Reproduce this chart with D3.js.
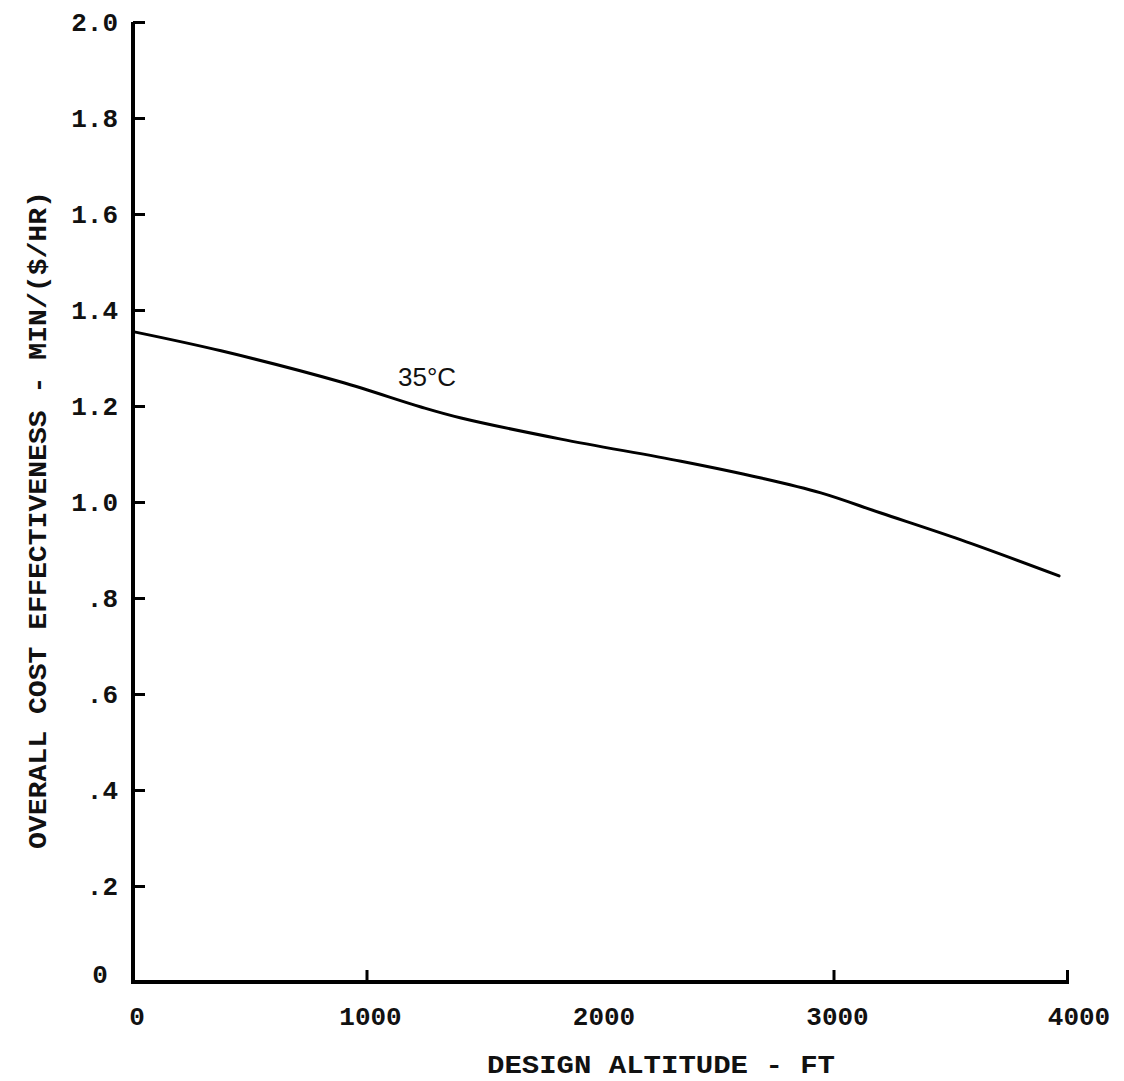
<!DOCTYPE html>
<html>
<head>
<meta charset="utf-8">
<script src="https://cdn.jsdelivr.net/npm/d3@7"></script>
<style>
  html, body { margin: 0; padding: 0; background: #fff; }
  svg { display: block; }
  .mono { font-family: "Liberation Mono", "DejaVu Sans Mono", monospace; font-weight: bold; fill: #111; }
</style>
</head>
<body>
<svg id="chart" width="1124" height="1081"></svg>
<script>
// ---- data ----
const altitudeFt = [0, 377, 891, 1233, 1405, 1833, 2347, 2690, 2946, 3203, 3546, 3966];
const costEff   = [1.355, 1.315, 1.25, 1.198, 1.175, 1.131, 1.085, 1.05, 1.019, 0.977, 0.921, 0.846];
const curveLabel = "35°C";
const yTicks = [0, 0.2, 0.4, 0.6, 0.8, 1.0, 1.2, 1.4, 1.6, 1.8, 2.0];
const yTickLabels = ["0", ".2", ".4", ".6", ".8", "1.0", "1.2", "1.4", "1.6", "1.8", "2.0"];
const xTicks = [0, 1000, 2000, 3000, 4000];
const xTickLabels = ["0", "1000", "2000", "3000", "4000"];
const xTickMarks = [1000, 3000, 4000];
const xTitle = "DESIGN ALTITUDE - FT";
const yTitle = "OVERALL COST EFFECTIVENESS - MIN/($/HR)";

const svg = d3.select("#chart");
const x = d3.scaleLinear().domain([0, 4000]).range([133, 1067]);
const y = d3.scaleLinear().domain([0, 2]).range([982, 22]);

// axes lines
svg.append("line").attr("x1", x(0)).attr("x2", x(0)).attr("y1", y(0)).attr("y2", y(2))
  .attr("stroke", "#000").attr("stroke-width", 4);
svg.append("line").attr("x1", x(0) - 2).attr("x2", x(4000) + 2).attr("y1", y(0)).attr("y2", y(0))
  .attr("stroke", "#000").attr("stroke-width", 4);

// y ticks (inward)
const yAxis = d3.axisRight(y).tickValues(yTicks.slice(1)).tickSize(12).tickFormat("");
const gy = svg.append("g").attr("transform", `translate(${x(0)},0)`).call(yAxis);
gy.select(".domain").remove();
gy.selectAll(".tick line").attr("stroke", "#000").attr("stroke-width", 3);

// x ticks (upward)
const xAxis = d3.axisTop(x).tickValues(xTickMarks).tickSize(12).tickFormat("");
const gx = svg.append("g").attr("transform", `translate(0,${y(0)})`).call(xAxis);
gx.select(".domain").remove();
gx.selectAll(".tick line").attr("stroke", "#000").attr("stroke-width", 3);

// y tick labels
svg.selectAll(".ylab").data(yTicks).enter().append("text")
  .attr("class", "mono ylab")
  .attr("x", (d, i) => yTickLabels[i] === "0" ? 100 : 118)
  .attr("y", d => y(d) + 9 - (d === 0 ? 8 : 0))
  .attr("text-anchor", (d, i) => yTickLabels[i] === "0" ? "middle" : "end")
  .attr("font-size", 26)
  .text((d, i) => yTickLabels[i]);

// x tick labels
svg.selectAll(".xlab").data(xTicks).enter().append("text")
  .attr("class", "mono xlab")
  .attr("x", d => x(d) + (d === 4000 ? 12 : 4))
  .attr("y", 1025)
  .attr("text-anchor", "middle")
  .attr("font-size", 26)
  .text((d, i) => xTickLabels[i]);

// axis titles
svg.append("text").attr("class", "mono")
  .attr("x", 661).attr("y", 1073)
  .attr("text-anchor", "middle").attr("font-size", 25)
  .attr("textLength", 348).attr("lengthAdjust", "spacingAndGlyphs")
  .text(xTitle);

svg.append("text").attr("class", "mono")
  .attr("transform", "translate(46,520) rotate(-90)")
  .attr("text-anchor", "middle").attr("font-size", 25)
  .attr("textLength", 658).attr("lengthAdjust", "spacingAndGlyphs")
  .text(yTitle);

// curve
const line = d3.line().x(d => x(d[0])).y(d => y(d[1])).curve(d3.curveCatmullRom.alpha(0.5));
svg.append("path")
  .datum(altitudeFt.map((a, i) => [a, costEff[i]]))
  .attr("d", line)
  .attr("fill", "none").attr("stroke", "#000").attr("stroke-width", 3)
  .attr("stroke-linecap", "round");

// curve label
svg.append("text")
  .attr("x", 398).attr("y", 386)
  .attr("font-family", "'Liberation Sans', Arial, sans-serif")
  .attr("font-size", 26).attr("fill", "#111")
  .text(curveLabel);
</script>
</body>
</html>
